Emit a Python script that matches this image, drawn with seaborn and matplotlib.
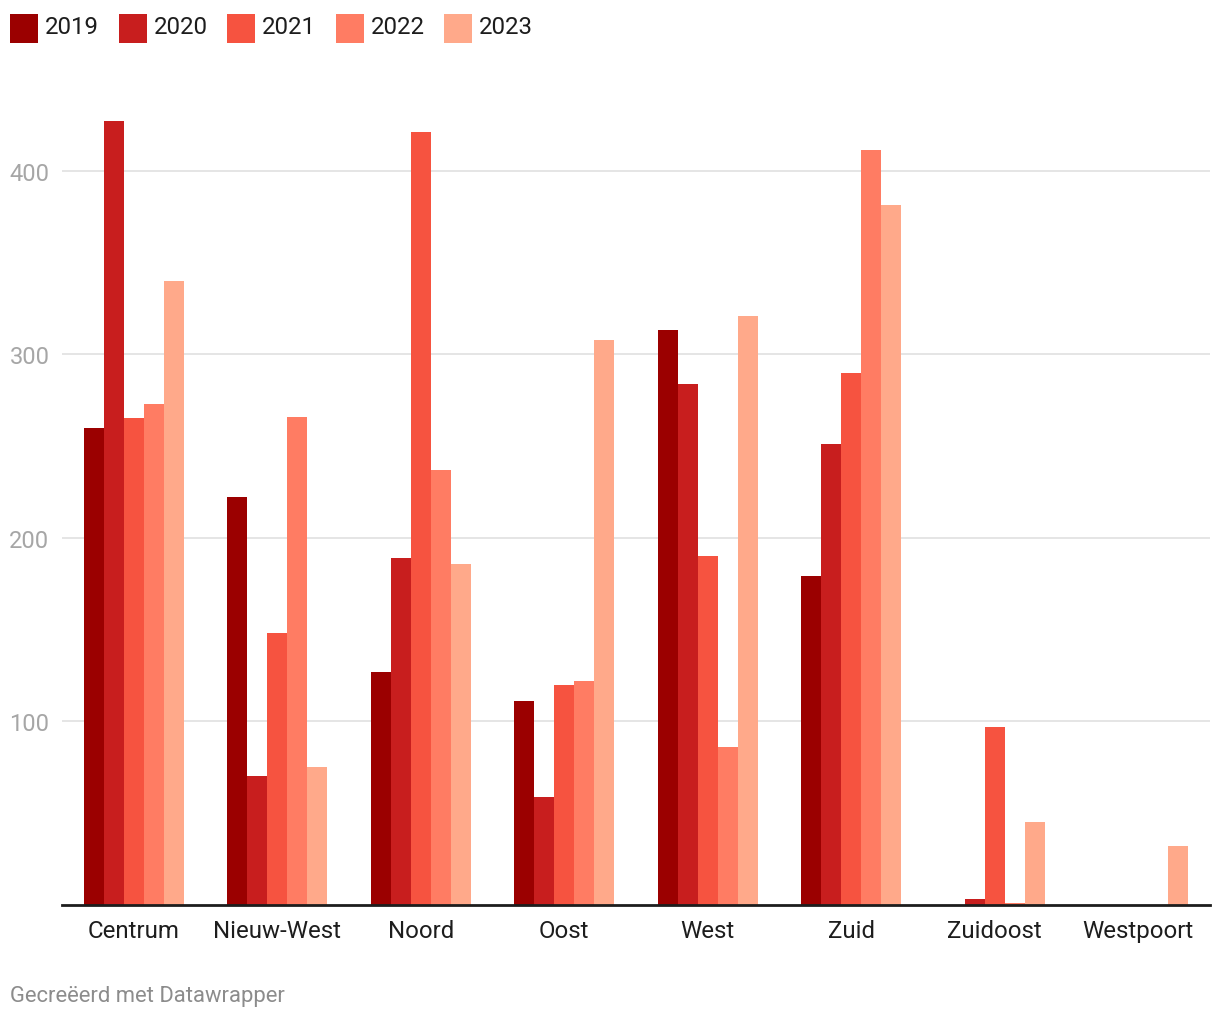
import matplotlib
matplotlib.use("Agg")
import matplotlib.pyplot as plt
from matplotlib.patches import Rectangle
import seaborn as sns
import pandas as pd

# Stadsdelen en jaren
districts = ['Centrum', 'Nieuw-West', 'Noord', 'Oost', 'West', 'Zuid', 'Zuidoost', 'Westpoort']
years = ['2019', '2020', '2021', '2022', '2023']

# Waarden per jaar, in de volgorde van districts
v2019 = [260, 222, 127, 111, 313, 179, 0, 0]
v2020 = [427, 70, 189, 59, 284, 251, 3, 0]
v2021 = [265, 148, 421, 120, 190, 290, 97, 0]
v2022 = [273, 266, 237, 122, 86, 411, 1, 0]
v2023 = [340, 75, 186, 308, 321, 381, 45, 32]

colors = ['#9b0000', '#c81e1e', '#f65340', '#ff7c63', '#ffa98a']

rows = []
for year, vals in zip(years, [v2019, v2020, v2021, v2022, v2023]):
    for d, v in zip(districts, vals):
        rows.append({'Stadsdeel': d, 'Jaar': year, 'Aantal': v})
df = pd.DataFrame(rows)

sns.set_style('white')
plt.rcParams['font.family'] = ['Roboto', 'DejaVu Sans']

W, H = 1220, 1020
fig = plt.figure(figsize=(W / 100, H / 100), dpi=100)
ax = fig.add_axes([62 / W, 1 - 906 / H, (1210 - 62) / W, (906 - 100) / H])

sns.barplot(data=df, x='Stadsdeel', y='Aantal', hue='Jaar', order=districts,
            hue_order=years, palette=colors, width=0.7, saturation=1,
            linewidth=0, errorbar=None, legend=False, ax=ax)

ax.set_xlim(-0.5, len(districts) - 0.5)
ax.set_ylim(0, 439)
ax.set_yticks([100, 200, 300, 400])
ax.grid(axis='y', color='#e5e5e5', linewidth=1.4)
ax.set_axisbelow(True)
ax.set_xlabel('')
ax.set_ylabel('')
for side in ['top', 'right', 'left']:
    ax.spines[side].set_visible(False)
ax.spines['bottom'].set_color('#1d1d1d')
ax.spines['bottom'].set_linewidth(2)
ax.tick_params(axis='y', length=0, pad=9, labelsize=17, labelcolor='#a6a6a6')
ax.tick_params(axis='x', length=0, pad=10, labelsize=17.3, labelcolor='#1d1d1d')

# legenda bovenaan, zoals in Datawrapper
for i, (c, y) in enumerate(zip(colors, years)):
    x0 = 10 + i * 108.5
    fig.add_artist(Rectangle((x0 / W, 1 - 43.5 / H), 28 / W, 29 / H,
                             transform=fig.transFigure, facecolor=c, edgecolor='none'))
    fig.text((x0 + 35) / W, 1 - 28 / H, y, fontsize=17.3, color='#1d1d1d',
             va='center', ha='left')

fig.text(10 / W, 1 - 997 / H, 'Gecreëerd met Datawrapper', fontsize=15.8,
         color='#8c8c8c', va='center', ha='left')

fig.savefig('out.png', dpi=100, facecolor='white')
